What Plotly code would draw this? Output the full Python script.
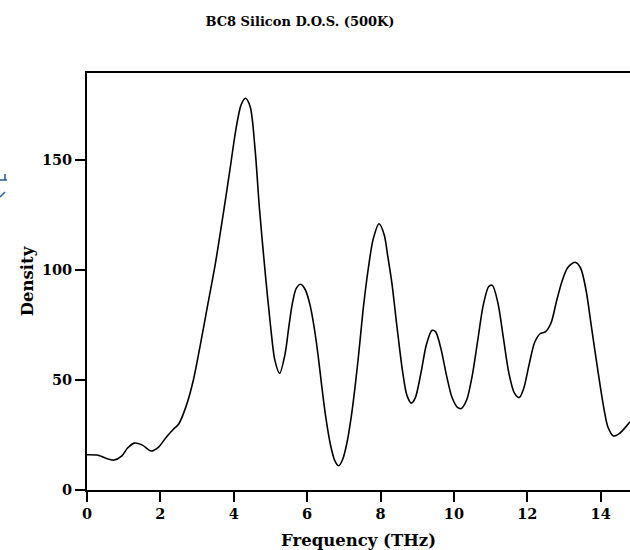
import plotly.graph_objects as go

# Phonon density of states of BC8 silicon at 500 K
freq_thz = [0.0, 0.3, 0.5, 0.74, 0.95, 1.1, 1.29, 1.5, 1.75, 1.95, 2.16, 2.35, 2.5,
            2.7, 2.9, 3.1, 3.3, 3.5, 3.7, 3.9, 4.05, 4.2, 4.32, 4.45, 4.58, 4.7,
            4.85, 5.0, 5.12, 5.25, 5.4, 5.5, 5.6, 5.7, 5.82, 5.95, 6.08, 6.2, 6.3,
            6.4, 6.5, 6.63, 6.75, 6.86, 6.97, 7.08, 7.2, 7.3, 7.4, 7.54, 7.67, 7.8,
            7.96, 8.1, 8.2, 8.31, 8.45, 8.6, 8.72, 8.84, 8.95, 9.1, 9.25, 9.4, 9.5,
            9.65, 9.8, 9.95, 10.1, 10.2, 10.35, 10.5, 10.65, 10.8, 10.95, 11.05,
            11.2, 11.35, 11.5, 11.65, 11.78, 11.9, 12.05, 12.2, 12.35, 12.5, 12.65,
            12.8, 12.95, 13.1, 13.3, 13.45, 13.6, 13.75, 13.9, 14.0, 14.1, 14.2,
            14.35, 14.5, 14.65, 14.8]
density = [16, 15.8, 14.5, 13.6, 15.5, 19, 21.3, 20.5, 17.7, 19.5, 24, 27.5, 30,
           38, 50, 67, 85, 103, 124, 146, 163, 175, 178, 174, 155, 128,
           100, 75, 59, 53, 62, 74, 85, 91.5, 93.5, 91, 84, 73, 61,
           47, 34, 21, 13.5, 11, 14, 21, 33, 46, 61, 84, 101, 114,
           121, 116, 106, 94, 74, 54, 43, 39.5, 42, 53, 66, 72.5, 72,
           64, 52, 42, 37.5, 37, 41, 52, 68, 84, 92.5, 93,
           85, 69, 53, 44, 42, 46, 57, 67, 71, 72, 76,
           86, 95, 101, 103.5, 101, 91, 74, 57, 46, 36, 28.5,
           24.5, 25.5, 28, 31]

x_ticks = [0, 2, 4, 6, 8, 10, 12, 14]
y_ticks = [0, 50, 100, 150]

FONT = "DejaVu Serif"

fig = go.Figure()
fig.add_trace(go.Scatter(
    x=freq_thz, y=density, mode="lines",
    line=dict(color="black", width=1.6, shape="spline", smoothing=0.8),
    hoverinfo="skip", showlegend=False,
))

# small blue glyph in the left margin
for x0, y0, x1, y1 in [(0, 180, 7, 180), (5, 174, 5, 180), (0, 197, 5, 192)]:
    fig.add_shape(type="line", xref="paper", yref="paper",
                  x0=(x0 - 87) / 543, x1=(x1 - 87) / 543,
                  y0=(490 - y0) / 417, y1=(490 - y1) / 417,
                  line=dict(color="#1f5a9c", width=1.5))

fig.update_layout(
    width=630, height=550,
    margin=dict(l=87, r=0, t=73, b=60),
    paper_bgcolor="white", plot_bgcolor="white",
    title=dict(text="BC8 Silicon D.O.S. (500K)", x=300 / 630, xanchor="center",
               y=1 - 21 / 550, yanchor="middle", yref="container",
               font=dict(family=FONT, size=13, color="black", weight="bold")),
    xaxis=dict(
        range=[0, 14.8], tickvals=x_ticks, ticks="outside", ticklen=10,
        tickwidth=1.5, tickcolor="black", showline=True, linecolor="black",
        linewidth=1.8, mirror=True, showgrid=False, zeroline=False,
        tickfont=dict(family=FONT, size=14.5, color="black", weight="bold"),
        title=dict(text="Frequency (THz)", standoff=13,
                   font=dict(family=FONT, size=16.5, color="black", weight="bold")),
    ),
    yaxis=dict(
        range=[0, 189.5], tickvals=y_ticks, ticks="outside", ticklen=10,
        tickwidth=1.5, tickcolor="black", showline=True, linecolor="black",
        linewidth=1.8, mirror=False, showgrid=False, zeroline=False,
        tickfont=dict(family=FONT, size=14.5, color="black", weight="bold"),
        title=dict(text="Density", standoff=4,
                   font=dict(family=FONT, size=16.5, color="black", weight="bold")),
    ),
)

fig.write_html("out.html")
